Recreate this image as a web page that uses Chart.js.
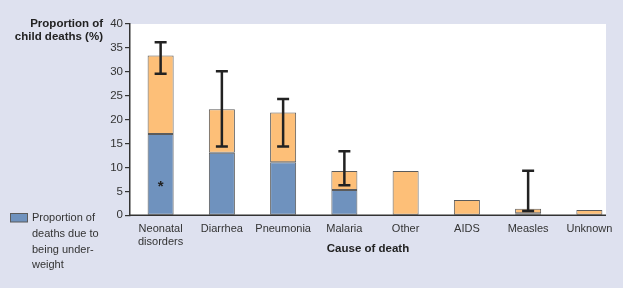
<!DOCTYPE html>
<html>
<head>
<meta charset="utf-8">
<script src="https://cdn.jsdelivr.net/npm/chart.js@4"></script>
<style>
html,body{margin:0;padding:0;background:#dee1ef;}
#wrap{width:623px;height:288px;position:relative;}
</style>
</head>
<body>
<div id="wrap"><canvas id="c" width="623" height="288"></canvas></div>
<script>
const categories = [["Neonatal","disorders"],"Diarrhea","Pneumonia","Malaria","Other","AIDS","Measles","Unknown"];
const totalDeaths = [33.4, 22.2, 21.5, 9.25, 9.25, 3.2, 1.35, 1.1];
const underweight = [17.0, 13.1, 11.1, 5.3, 0, 0, 0.45, 0];
const errLow  = [29.6, 14.4, 14.4, 6.3, null, null, 0.9, null];
const errHigh = [36.2, 30.1, 24.3, 13.4, null, null, 9.3, null];
const yTicks = [0,5,10,15,20,25,30,35,40];

const remainder = totalDeaths.map((t,i)=>+(t-underweight[i]).toFixed(2));

const BG = '#dee1ef';
const BLUE = '#6f92be';
const ORANGE = '#fdbf78';
const EDGE = '#5b5b5b';
const FONT = "'Liberation Sans', Arial, Helvetica, sans-serif";

const decor = {
  id:'decor',
  beforeDraw(chart){
    const {ctx, chartArea:a} = chart;
    ctx.save();
    ctx.fillStyle = BG;
    ctx.fillRect(0,0,chart.width,chart.height);
    ctx.fillStyle = '#ffffff';
    ctx.fillRect(a.left, a.top, (a.right-14)-a.left, a.bottom-a.top);
    ctx.restore();
  },
  afterDatasetsDraw(chart){
    const {ctx, chartArea:a, scales:{x,y}} = chart;
    ctx.save();
    ctx.strokeStyle = '#333';
    ctx.lineWidth = 1.5;
    ctx.beginPath();
    ctx.moveTo(a.left, a.bottom);
    ctx.lineTo(a.right-14, a.bottom);
    ctx.stroke();
    ctx.strokeStyle = '#222';
    ctx.lineWidth = 2.5;
    errHigh.forEach((hi,i)=>{
      if(hi==null) return;
      const cx = x.getPixelForValue(i);
      const yh = y.getPixelForValue(hi), yl = y.getPixelForValue(errLow[i]);
      ctx.beginPath();
      ctx.moveTo(cx, yh); ctx.lineTo(cx, yl);
      ctx.moveTo(cx-6, yh); ctx.lineTo(cx+6, yh);
      ctx.moveTo(cx-6, yl); ctx.lineTo(cx+6, yl);
      ctx.stroke();
    });
    ctx.fillStyle = '#222';
    ctx.font = "bold 15px " + FONT;
    ctx.textAlign = 'center';
    ctx.textBaseline = 'middle';
    ctx.fillText('*', x.getPixelForValue(0), y.getPixelForValue(6.3)+2);
    ctx.fillStyle = '#222';
    ctx.font = "bold 11.5px " + FONT;
    ctx.textAlign = 'right';
    ctx.fillText('Proportion of', 103, 24);
    ctx.fillText('child deaths (%)', 103, 37);
    ctx.textAlign = 'center';
    ctx.fillText('Cause of death', 368, 249);
    ctx.fillStyle = BLUE;
    ctx.fillRect(10.5, 213.5, 17, 8.5);
    ctx.strokeStyle = EDGE; ctx.lineWidth = 1;
    ctx.strokeRect(10.5, 213.5, 17, 8.5);
    ctx.fillStyle = '#333';
    ctx.font = "11px " + FONT;
    ctx.textAlign = 'left';
    ['Proportion of','deaths due to','being under-','weight'].forEach((t,k)=>{
      ctx.fillText(t, 32, 218 + k*15.8);
    });
    ctx.restore();
  }
};

new Chart(document.getElementById('c'), {
  type:'bar',
  data:{
    labels: categories,
    datasets:[
      {label:'Proportion of deaths due to being underweight', data: underweight, backgroundColor: BLUE, borderColor: EDGE, borderWidth: 1, borderSkipped: false},
      {label:'Other deaths', data: remainder, backgroundColor: ORANGE, borderColor: EDGE, borderWidth: 1, borderSkipped: false}
    ]
  },
  options:{
    responsive:false,
    animation:false,
    devicePixelRatio:1,
    layout:{padding:{top:24,left:0,right:3,bottom:0}},
    datasets:{bar:{barPercentage:0.425, categoryPercentage:1}},
    plugins:{legend:{display:false}, tooltip:{enabled:false}},
    scales:{
      x:{
        stacked:true,
        offset:true,
        grid:{display:false, drawTicks:false},
        border:{display:false},
        ticks:{color:'#333', font:{family:FONT, size:11}, padding:7, maxRotation:0, autoSkip:false},
        afterFit(s){ s.height = 72.7; }
      },
      y:{
        stacked:true,
        min:0, max:40,
        afterBuildTicks(s){ s.ticks = yTicks.map(v=>({value:v})); },
        grid:{drawOnChartArea:false, drawTicks:true, tickLength:5, color:'#333', lineWidth:1.2},
        border:{display:true, color:'#333', width:1.5},
        ticks:{color:'#333', font:{family:FONT, size:11.5}, padding:2},
        afterFit(s){ s.width = 130; }
      }
    }
  },
  plugins:[decor]
});
</script>
</body>
</html>
